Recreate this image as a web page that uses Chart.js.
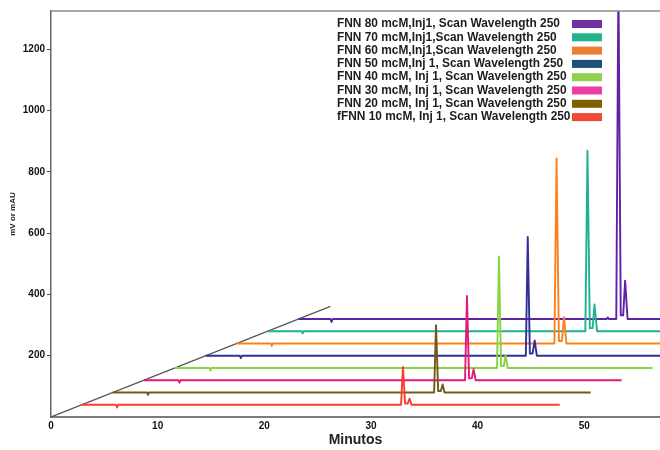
<!DOCTYPE html>
<html>
<head>
<meta charset="utf-8">
<title>FNN - Scan Wavelength 250</title>
<script src="https://cdn.jsdelivr.net/npm/chart.js"></script>
<style>
    html, body { margin: 0; padding: 0; background: #fff; }
    #wrap { width: 660px; height: 450px; }
</style>
</head>
<body>
<div id="wrap"><canvas id="chromChart" width="660" height="450"></canvas></div>
<script>
/*
|--------------------------------------------------------------------------
| Chromatograms: [retention time (min), signal (mV)], front run first
|--------------------------------------------------------------------------
*/
const fnn10 = [[0, 0], [3.2, 0], [3.3, -9], [3.4, 0], [29.92, 0], [30.1, 123], [30.3, 4], [30.55, 4], [30.72, 20], [30.9, 0], [44.8, 0]];
const fnn20 = [[0, 0], [3.2, 0], [3.3, -8], [3.4, 0], [30.12, 0], [30.3, 220], [30.5, 5], [30.75, 5], [30.92, 26], [31.1, 0], [44.8, 0]];
const fnn30 = [[0, 0], [3.25, 0], [3.35, -8], [3.45, 0], [30.12, 0], [30.3, 275], [30.5, 6], [30.75, 6], [30.92, 36], [31.12, 0], [44.8, 0]];
const fnn40 = [[0, 0], [3.25, 0], [3.35, -9], [3.45, 0], [30.22, 0], [30.4, 364], [30.6, 6], [30.85, 6], [31.02, 41], [31.22, 0], [44.8, 0]];
const fnn50 = [[0, 0], [3.2, 0], [3.3, -8], [3.4, 0], [30.02, 0], [30.2, 388], [30.4, 7], [30.65, 7], [30.85, 50], [31.05, 0], [44.8, 0]];
const fnn60 = [[0, 0], [3.2, 0], [3.3, -8], [3.4, 0], [29.8, 0], [30.0, 604], [30.22, 8], [30.5, 8], [30.7, 86], [30.92, 0], [44.8, 0]];
const fnn70 = [[0, 0], [3.2, 0], [3.3, -7], [3.4, 0], [29.8, 0], [30.0, 589], [30.22, 10], [30.48, 10], [30.66, 87], [30.9, 0], [44.8, 0]];
const fnn80 = [[0, 0], [3.0, 0], [3.1, -10], [3.2, 0], [28.9, 0], [29.0, 5], [29.1, 0], [29.8, 0], [30.0, 1120], [30.22, 12], [30.45, 12], [30.63, 125], [30.86, 0], [44.8, 0]];

const traces = [fnn10, fnn20, fnn30, fnn40, fnn50, fnn60, fnn70, fnn80];

const seriesLabels = [
    "fFNN 10 mcM, Inj 1, Scan Wavelength 250",
    "FNN 20 mcM, Inj 1, Scan Wavelength 250",
    "FNN 30 mcM, Inj 1, Scan Wavelength 250",
    "FNN 40 mcM, Inj 1, Scan Wavelength 250",
    "FNN 50 mcM,Inj 1, Scan Wavelength 250",
    "FNN 60 mcM,Inj1,Scan Wavelength 250",
    "FNN 70 mcM,Inj1,Scan Wavelength 250",
    "FNN 80 mcM,Inj1, Scan Wavelength 250"
];

// each run is pushed back along the depth axis by this much
const shiftMinutes = 2.9;
const shiftSignal = 40;

// depth axis drawn from the origin through the start of every run
const depthAxis = [[0, 0], [26.2, 361]];

const xTicks = [0, 10, 20, 30, 40, 50];
const yTicks = [200, 400, 600, 800, 1000, 1200];

const traceColors = ["#ff3b2c", "#72581a", "#e0197a", "#86d440", "#2f2f9c", "#ff8019", "#1fb191", "#5e22a8"];
const legendColors = ["#f04a32", "#7f6000", "#ec3ea0", "#92d050", "#1f4e79", "#ef7d31", "#22b38a", "#7030a0"];

const FONT = "'Liberation Sans', Arial, sans-serif";

/*
|--------------------------------------------------------------------------
| Plugins: frame top edge and legend with swatches on the right
|--------------------------------------------------------------------------
*/
const frameTop = {
    id: "frameTop",
    afterDraw(chart) {
        const { ctx, chartArea } = chart;
        ctx.save();
        ctx.strokeStyle = "#8c8c8c";
        ctx.lineWidth = 1.5;
        ctx.beginPath();
        ctx.moveTo(chartArea.left, chartArea.top);
        ctx.lineTo(chartArea.right, chartArea.top);
        ctx.stroke();
        ctx.restore();
    }
};

const sideLegend = {
    id: "sideLegend",
    afterDraw(chart) {
        const ctx = chart.ctx;
        ctx.save();
        ctx.font = "bold 11.9px " + FONT;
        ctx.textBaseline = "middle";
        ctx.textAlign = "left";
        for (let row = 0; row < seriesLabels.length; row++) {
            const k = seriesLabels.length - 1 - row;
            const y = 24 + row * 13.3;
            ctx.fillStyle = "#1c1c1c";
            ctx.fillText(seriesLabels[k], 337, y);
            ctx.fillStyle = legendColors[k];
            ctx.fillRect(572, y - 4, 30, 8);
        }
        ctx.restore();
    }
};

/*
|--------------------------------------------------------------------------
| Chart
|--------------------------------------------------------------------------
*/
const datasets = traces.map((trace, k) => ({
    label: seriesLabels[k],
    data: trace.map(([t, mv]) => ({
        x: t + shiftMinutes * (k + 1),
        y: mv + shiftSignal * (k + 1)
    })),
    borderColor: traceColors[k],
    borderWidth: 1.9,
    borderJoinStyle: "round",
    pointRadius: 0,
    tension: 0
}));

datasets.push({
    label: "depth",
    data: depthAxis.map(([x, y]) => ({ x: x, y: y })),
    borderColor: "#555555",
    borderWidth: 1.2,
    pointRadius: 0
});

new Chart(document.getElementById("chromChart"), {
    type: "line",
    data: { datasets: datasets },
    options: {
        responsive: false,
        animation: false,
        layout: { padding: { top: 11, right: 0, left: 0, bottom: 0 } },
        plugins: {
            legend: { display: false },
            tooltip: { enabled: false }
        },
        scales: {
            x: {
                type: "linear",
                min: 0,
                max: 57.1,
                afterFit: scale => { scale.height = 33; },
                afterBuildTicks: scale => {
                    scale.ticks = xTicks.map(v => ({ value: v }));
                },
                ticks: {
                    padding: 3,
                    color: "#111",
                    callback: v => String(v),
                    font: { family: FONT, size: 10, weight: "bold" }
                },
                grid: { display: false, drawTicks: false },
                border: { display: true, color: "#7a7a7a", width: 2 },
                title: {
                    display: true,
                    text: "Minutos",
                    color: "#222",
                    padding: { top: 0, bottom: 1 },
                    font: { family: FONT, size: 14, weight: "bold" }
                }
            },
            y: {
                min: 0,
                max: 1325,
                afterFit: scale => { scale.width = 51; },
                afterBuildTicks: scale => {
                    scale.ticks = yTicks.map(v => ({ value: v }));
                },
                ticks: {
                    padding: 2,
                    color: "#111",
                    callback: v => String(v),
                    font: { family: FONT, size: 10, weight: "bold" }
                },
                grid: {
                    drawOnChartArea: false,
                    drawTicks: true,
                    tickLength: 4,
                    color: "#444"
                },
                border: { display: true, color: "#666", width: 1.5 },
                title: {
                    display: true,
                    text: "mV or mAU",
                    color: "#222",
                    padding: { top: 8, bottom: 0 },
                    font: { family: FONT, size: 8, weight: "bold" }
                }
            }
        }
    },
    plugins: [frameTop, sideLegend]
});
</script>
</body>
</html>
